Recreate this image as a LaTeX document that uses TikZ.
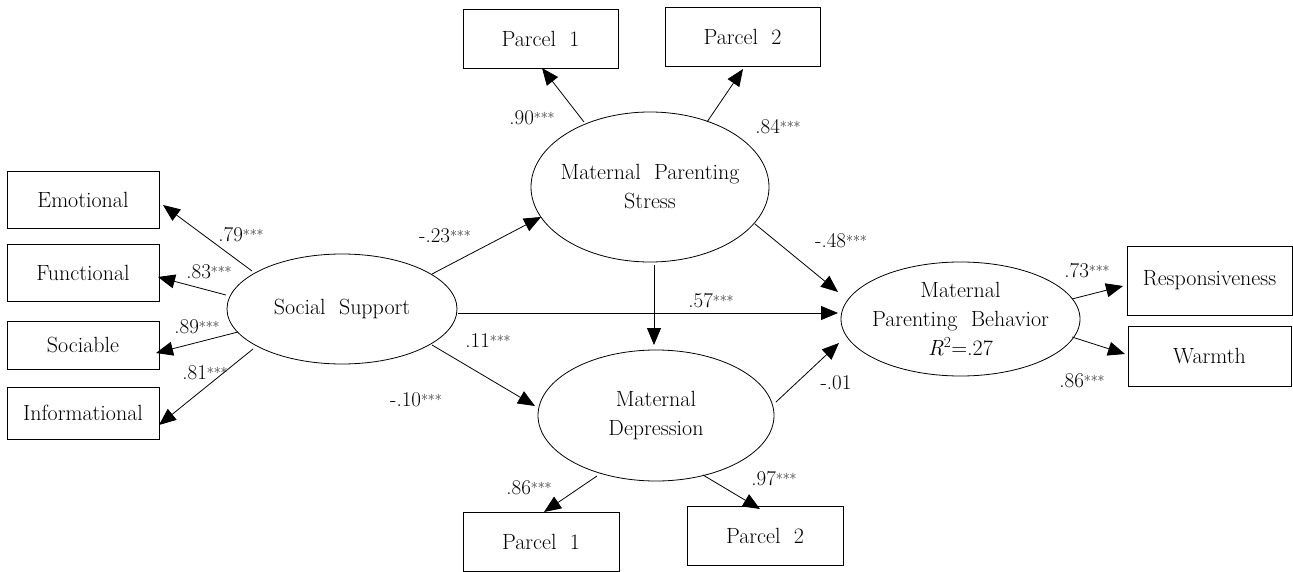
\documentclass[tikz,border=0pt]{standalone}
\usetikzlibrary{arrows.meta,shapes.geometric}
\newcommand\sig{{\fontsize{15}{15}\selectfont\raisebox{1.5pt}{***}}}
\begin{document}
\begin{tikzpicture}[x=1pt,y=-1pt,
  txt/.style={font=\fontsize{22}{29}\selectfont},
  box/.style={txt,draw,line width=0.9pt,inner sep=0pt},
  lat/.style={txt,ellipse,draw,line width=0.8pt,inner sep=-25pt,align=center},
  lab/.style={font=\fontsize{21}{22}\selectfont,inner sep=0pt},
  arr/.style={-{Triangle[length=17pt,width=14pt]},line width=0.8pt}]
\useasboundingbox (0,0) rectangle (1293,572);
% indicator boxes
\node[box,minimum width=152pt,minimum height=57pt] (emo) at (83,199.5) {Emotional};
\node[box,minimum width=152pt,minimum height=57pt] (fun) at (83,272.5) {Functional};
\node[box,minimum width=152pt,minimum height=48pt] (soc) at (83,345) {Sociable};
\node[box,minimum width=152pt,minimum height=52pt] (inf) at (83,413) {Informational};
\node[box,minimum width=155pt,minimum height=59pt] (p1t) at (540.5,38.5) {Parcel\ \ 1};
\node[box,minimum width=155pt,minimum height=59pt] (p2t) at (742.5,36.5) {Parcel\ \ 2};
\node[box,minimum width=156pt,minimum height=59pt] (p1b) at (541,541.5) {Parcel\ \ 1};
\node[box,minimum width=156pt,minimum height=59pt] (p2b) at (765,535.5) {Parcel\ \ 2};
\node[box,minimum width=165pt,minimum height=69pt] (resp) at (1209.5,280.5) {Responsiveness};
\node[box,minimum width=163pt,minimum height=60pt] (warm) at (1209.5,356) {Warmth};
% latent variables
\node[lat,minimum width=230pt,minimum height=110pt] (ss) at (342,309) {Social\ \ Support};
\node[lat,minimum width=238pt,minimum height=150pt] (mps) at (650,187) {Maternal\ \ Parenting\\Stress};
\node[lat,minimum width=236pt,minimum height=131pt] (md) at (656,415.5) {Maternal\\Depression};
\node[lat,minimum width=239pt,minimum height=114pt] (mpb) at (960.5,319) {Maternal\\Parenting\ \ Behavior\\\textit{R}\textsuperscript{2}=.27};
% paths
\draw[arr] ([shift={(-90,-38)}]ss.center) -- ([shift={(80,5.5)}]emo.center);
\draw[arr] ([shift={(-116,-14)}]ss.center) -- ([shift={(75,4.5)}]fun.center);
\draw[arr] ([shift={(-104,23)}]ss.center) -- ([shift={(73,8)}]soc.center);
\draw[arr] ([shift={(-89,40)}]ss.center) -- ([shift={(76,12)}]inf.center);
\draw[arr] ([shift={(90,-35)}]ss.center) -- ([shift={(-109,30)}]mps.center);
\draw[arr] ([shift={(116,4)}]ss.center) -- ([shift={(-122.5,-6)}]mpb.center);
\draw[arr] ([shift={(90,36)}]ss.center) -- ([shift={(-121,-9.5)}]md.center);
\draw[arr] ([shift={(-66,-65)}]mps.center) -- ([shift={(1.5,29.5)}]p1t.center);
\draw[arr] ([shift={(57,-65)}]mps.center) -- ([shift={(0.5,32.5)}]p2t.center);
\draw[arr] ([shift={(4,78)}]mps.center) -- ([shift={(-2,-70.5)}]md.center);
\draw[arr] ([shift={(105,37)}]mps.center) -- ([shift={(-122.5,-27)}]mpb.center);
\draw[arr] ([shift={(-59,60.5)}]md.center) -- ([shift={(3,-29.5)}]p1b.center);
\draw[arr] ([shift={(47,59.5)}]md.center) -- ([shift={(-5,-26.5)}]p2b.center);
\draw[arr] ([shift={(120,-13.5)}]md.center) -- ([shift={(-121.5,24)}]mpb.center);
\draw[arr] ([shift={(111.5,-20)}]mpb.center) -- ([shift={(-86.5,5.5)}]resp.center);
\draw[arr] ([shift={(111.5,18)}]mpb.center) -- ([shift={(-84.5,-2)}]warm.center);
% coefficients
\node[lab] (l79) at (241,235) {.79\sig};
\node[lab] (l83) at (209,272) {.83\sig};
\node[lab] (l89) at (197,327) {.89\sig};
\node[lab] (l81) at (205,373) {.81\sig};
\node[lab] (l23) at (445,236) {-.23\sig};
\node[lab] (l10) at (416,400) {-.10\sig};
\node[lab] (l90) at (532,118) {.90\sig};
\node[lab] (l84) at (778,127) {.84\sig};
\node[lab] (l48) at (841,241) {-.48\sig};
\node[lab] (l57) at (711,301) {.57\sig};
\node[lab] (l11) at (488,341) {.11\sig};
\node[lab] (l86b) at (529,488) {.86\sig};
\node[lab] (l97) at (774,479) {.97\sig};
\node[lab] (l01) at (836,383) {-.01};
\node[lab] (l73) at (1087,271) {.73\sig};
\node[lab] (l86r) at (1082,381) {.86\sig};
\end{tikzpicture}
\end{document}
